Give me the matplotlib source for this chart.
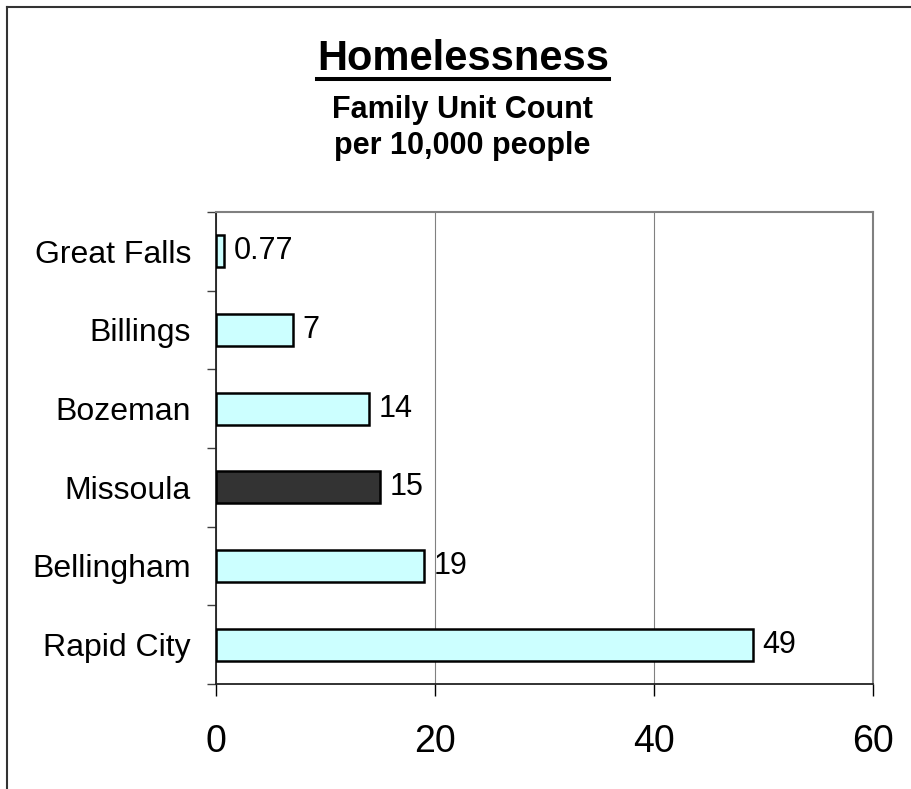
import matplotlib
matplotlib.use("Agg")
import matplotlib.pyplot as plt
from matplotlib.lines import Line2D
import numpy as np

plt.rcParams['font.family'] = ['Liberation Sans', 'DejaVu Sans']

# данные
cities = ["Great Falls", "Billings", "Bozeman", "Missoula", "Bellingham", "Rapid City"]
counts = [0.77, 7, 14, 15, 19, 49]
count_labels = ["0.77", "7", "14", "15", "19", "49"]
bar_colors = ["#CCFFFF", "#CCFFFF", "#CCFFFF", "#333333", "#CCFFFF", "#CCFFFF"]
x_ticks = [0, 20, 40, 60]

fig = plt.figure(figsize=(9.12, 7.89), dpi=100)
ax = fig.add_axes([216 / 912, 105 / 789, 657 / 912, 472 / 789])

pos = np.arange(len(cities))
ax.barh(pos, counts, height=0.41, color=bar_colors, edgecolor="black",
        linewidth=1.8, zorder=3)

for p, v, lab in zip(pos, counts, count_labels):
    ax.annotate(lab, (v, p), xytext=(7, 0), textcoords="offset points",
                va="center", ha="left", fontsize=22)

ax.set_xlim(0, 60)
ax.set_ylim(len(cities) - 0.5, -0.5)
ax.set_xticks(x_ticks)
ax.set_xticklabels([str(t) for t in x_ticks], fontsize=27)
ax.set_yticks(pos)
ax.set_yticklabels(cities, fontsize=23)
ax.set_yticks(np.arange(len(cities) + 1) - 0.5, minor=True)

ax.tick_params(axis="x", direction="out", length=8.6, width=1, color="black", pad=20)
ax.tick_params(axis="y", which="major", length=0, pad=18)
ax.tick_params(axis="y", which="minor", direction="out", length=6.5, width=1, color="#404040")

ax.grid(axis="x", color="#808080", linewidth=0.8, zorder=0)
ax.set_axisbelow(True)

for s in ["top", "right"]:
    ax.spines[s].set_color("#808080")
    ax.spines[s].set_linewidth(1.5)
for s in ["left", "bottom"]:
    ax.spines[s].set_color("#222222")
    ax.spines[s].set_linewidth(1.3)

# заголовок
title = fig.text(463 / 912, 1 - 70 / 789, "Homelessness", ha="center", va="baseline",
                 fontsize=30, fontweight="bold")
fig.text(462 / 912, 1 - 118 / 789, "Family Unit Count", ha="center", va="baseline",
         fontsize=22, fontweight="bold")
fig.text(462 / 912, 1 - 154 / 789, "per 10,000 people", ha="center", va="baseline",
         fontsize=22, fontweight="bold")

# подчёркивание заголовка
fig.canvas.draw()
bb = title.get_window_extent()
W, H = fig.bbox.width, fig.bbox.height
uy = 1 - 79 / 789
fig.add_artist(Line2D([bb.x0 / W, bb.x1 / W], [uy, uy], color="black", linewidth=2.9))

# рамка вокруг рисунка
fig.add_artist(Line2D([7.5 / 912, 7.5 / 912], [0, 1 - 6.5 / 789], color="#333333", linewidth=1.5))
fig.add_artist(Line2D([7.5 / 912, 1], [1 - 6.5 / 789, 1 - 6.5 / 789], color="#333333", linewidth=1.5))

fig.savefig("out.png", dpi=100)
